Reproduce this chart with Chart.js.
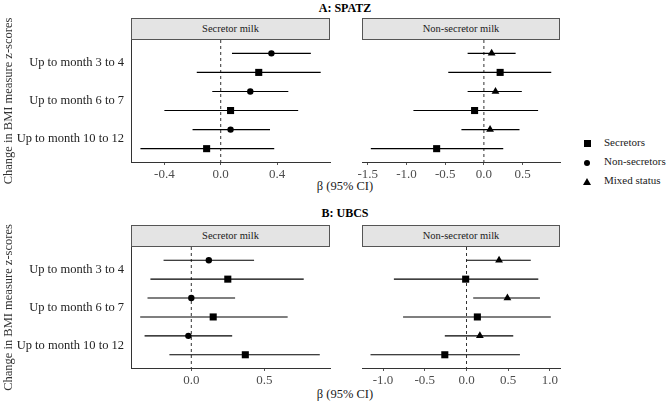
<!DOCTYPE html>
<html>
<head>
<meta charset="utf-8">
<script src="https://cdn.jsdelivr.net/npm/chart.js@4.4.1/dist/chart.umd.min.js"></script>
<style>
  body { margin: 0; background: #fff; }
  #wrap { position: relative; width: 669px; height: 404px; overflow: hidden;
          font-family: 'Liberation Serif', 'DejaVu Serif', serif; color: #1a1a1a; }
  canvas { position: absolute; }
  .title { position: absolute; font-weight: bold; font-size: 12px; color: #000;
           transform: translate(-50%, -50%); white-space: nowrap; }
  .strip { position: absolute; background: #e4e4e4; border: 1px solid #555; box-sizing: border-box;
           font-size: 10.5px; text-align: center; line-height: 20px; }
  .xtitle { position: absolute; font-size: 12.5px; transform: translate(-50%, -50%); white-space: nowrap; }
  .leg { position: absolute; font-size: 11px; white-space: nowrap; }
  .mk { position: absolute; background: #000; }
  .tri { position: absolute; width: 0; height: 0; border-left: 4px solid transparent;
         border-right: 4px solid transparent; border-bottom: 7px solid #000; }
</style>
</head>
<body>
<div id="wrap">
  <div class="title" style="left:345px; top:8px;">A: SPATZ</div>
  <div class="strip" style="left:131px; top:18px; width:199px; height:22px;">Secretor milk</div>
  <div class="strip" style="left:362px; top:18px; width:198px; height:22px;">Non-secretor milk</div>
  <div class="xtitle" style="left:345px; top:186px;">β (95% CI)</div>

  <div class="title" style="left:345px; top:213px;">B: UBCS</div>
  <div class="strip" style="left:131px; top:225px; width:199px; height:22px;">Secretor milk</div>
  <div class="strip" style="left:362px; top:225px; width:198px; height:22px;">Non-secretor milk</div>
  <div class="xtitle" style="left:345px; top:394px;">β (95% CI)</div>

  <canvas id="aSec" width="345" height="186" style="left:0; top:8px;"></canvas>
  <canvas id="aNon" width="228" height="186" style="left:347px; top:8px;"></canvas>
  <canvas id="bSec" width="345" height="185" style="left:0; top:215px;"></canvas>
  <canvas id="bNon" width="228" height="185" style="left:347px; top:215px;"></canvas>

  <!-- legend -->
  <div class="mk" style="left:584px; top:140px; width:7px; height:7px;"></div>
  <div class="leg" style="left:604px; top:136px;">Secretors</div>
  <div class="mk" style="left:584px; top:160px; width:6px; height:6px; border-radius:50%;"></div>
  <div class="leg" style="left:604px; top:155px;">Non-secretors</div>
  <div class="tri" style="left:583px; top:178px;"></div>
  <div class="leg" style="left:604px; top:174px;">Mixed status</div>
</div>

<script>
const groups = ['Up to month 3 to 4', 'Up to month 6 to 7', 'Up to month 10 to 12'];

// A: SPATZ, secretor milk
const aSecNonEst = [0.36, 0.21, 0.07];
const aSecNonLo  = [0.08, -0.06, -0.20];
const aSecNonHi  = [0.64, 0.48, 0.35];
const aSecSecEst = [0.27, 0.07, -0.10];
const aSecSecLo  = [-0.17, -0.40, -0.57];
const aSecSecHi  = [0.71, 0.55, 0.38];

// A: SPATZ, non-secretor milk
const aNonMixEst = [0.10, 0.15, 0.08];
const aNonMixLo  = [-0.21, -0.21, -0.29];
const aNonMixHi  = [0.41, 0.49, 0.46];
const aNonSecEst = [0.21, -0.12, -0.61];
const aNonSecLo  = [-0.46, -0.91, -1.46];
const aNonSecHi  = [0.87, 0.70, 0.25];

// B: UBCS, secretor milk
const bSecNonEst = [0.12, 0.00, -0.02];
const bSecNonLo  = [-0.19, -0.30, -0.32];
const bSecNonHi  = [0.43, 0.30, 0.28];
const bSecSecEst = [0.25, 0.15, 0.37];
const bSecSecLo  = [-0.28, -0.35, -0.15];
const bSecSecHi  = [0.77, 0.66, 0.88];

// B: UBCS, non-secretor milk
const bNonMixEst = [0.39, 0.49, 0.16];
const bNonMixLo  = [0.00, 0.08, -0.26];
const bNonMixHi  = [0.77, 0.88, 0.56];
const bNonSecEst = [-0.01, 0.13, -0.26];
const bNonSecLo  = [-0.87, -0.76, -1.15];
const bNonSecHi  = [0.86, 1.01, 0.64];

// axis limits and ticks per panel
const aSecLim = [-0.637, 0.776];
const aSecTicks = [-0.4, 0, 0.4];
const aNonLim = [-1.574, 0.983];
const aNonTicks = [-1.5, -1, -0.5, 0, 0.5];
const bSecLim = [-0.413, 0.95];
const bSecTicks = [0, 0.5];
const bNonLim = [-1.252, 1.12];
const bNonTicks = [-1, -0.5, 0, 0.5, 1];

Chart.defaults.font.family = "'Liberation Serif', 'DejaVu Serif', serif";
Chart.defaults.animation = false;

const Y_MIN = 0.4, Y_MAX = 3.6, DODGE = 0.25;

function seriesSets(est, lo, hi, off, style, radius) {
    const sets = [];
    est.forEach((v, i) => {
        sets.push({
            type: 'line',
            data: [{ x: lo[i], y: i + 1 + off }, { x: hi[i], y: i + 1 + off }],
            borderColor: '#000',
            borderWidth: 1.1,
            pointRadius: 0,
            order: 2
        });
    });
    sets.push({
        type: 'scatter',
        data: est.map((v, i) => ({ x: v, y: i + 1 + off })),
        pointStyle: style,
        pointRadius: radius,
        backgroundColor: '#000',
        borderColor: '#000',
        borderWidth: 0,
        order: 0
    });
    return sets;
}

function buildPanel(id, lim, ticks, topSets, bottomSets, showY) {
    const datasets = [
        {
            type: 'line',
            data: [{ x: 0, y: Y_MIN }, { x: 0, y: Y_MAX }],
            borderColor: '#333',
            borderWidth: 1,
            borderDash: [3, 3],
            pointRadius: 0,
            order: 3
        },
        ...topSets,
        ...bottomSets
    ];
    return new Chart(document.getElementById(id), {
        type: 'scatter',
        data: { datasets },
        options: {
            responsive: false,
            events: [],
            layout: { padding: { top: 32, right: 15, bottom: 10, left: showY ? 0 : 15 } },
            plugins: { legend: { display: false }, tooltip: { enabled: false } },
            scales: {
                x: {
                    type: 'linear',
                    min: lim[0],
                    max: lim[1],
                    afterBuildTicks: s => { s.ticks = ticks.map(v => ({ value: v })); },
                    afterFit: s => { s.height = 22; },
                    border: { display: true, color: '#333', width: 1 },
                    grid: { display: true, drawOnChartArea: false, tickLength: 3, color: '#555' },
                    ticks: {
                        autoSkip: false, maxRotation: 0, padding: 2,
                        color: '#4d4d4d', font: { size: 13 },
                        callback: v => v.toFixed(1)
                    }
                },
                y: {
                    type: 'linear',
                    display: showY,
                    min: Y_MIN,
                    max: Y_MAX,
                    reverse: true,
                    afterBuildTicks: s => { s.ticks = [1, 2, 3].map(v => ({ value: v })); },
                    afterFit: s => { s.width = showY ? 131 : 0; },
                    border: { display: true, color: '#333', width: 1 },
                    grid: { display: false, drawOnChartArea: false, drawTicks: false },
                    title: {
                        display: true,
                        text: 'Change in BMI measure z-scores',
                        color: '#333',
                        font: { size: 12.5 },
                        padding: { top: 1, bottom: 0 }
                    },
                    ticks: {
                        autoSkip: false, padding: 7,
                        color: '#222', font: { size: 12.5 },
                        callback: v => groups[v - 1]
                    }
                }
            }
        }
    });
}

buildPanel('aSec', aSecLim, aSecTicks,
    seriesSets(aSecNonEst, aSecNonLo, aSecNonHi, -DODGE, 'circle', 3.2),
    seriesSets(aSecSecEst, aSecSecLo, aSecSecHi, DODGE, 'rect', 5), true);
buildPanel('aNon', aNonLim, aNonTicks,
    seriesSets(aNonMixEst, aNonMixLo, aNonMixHi, -DODGE, 'triangle', 4.5),
    seriesSets(aNonSecEst, aNonSecLo, aNonSecHi, DODGE, 'rect', 5), false);
buildPanel('bSec', bSecLim, bSecTicks,
    seriesSets(bSecNonEst, bSecNonLo, bSecNonHi, -DODGE, 'circle', 3.2),
    seriesSets(bSecSecEst, bSecSecLo, bSecSecHi, DODGE, 'rect', 5), true);
buildPanel('bNon', bNonLim, bNonTicks,
    seriesSets(bNonMixEst, bNonMixLo, bNonMixHi, -DODGE, 'triangle', 4.5),
    seriesSets(bNonSecEst, bNonSecLo, bNonSecHi, DODGE, 'rect', 5), false);
</script>
</body>
</html>
